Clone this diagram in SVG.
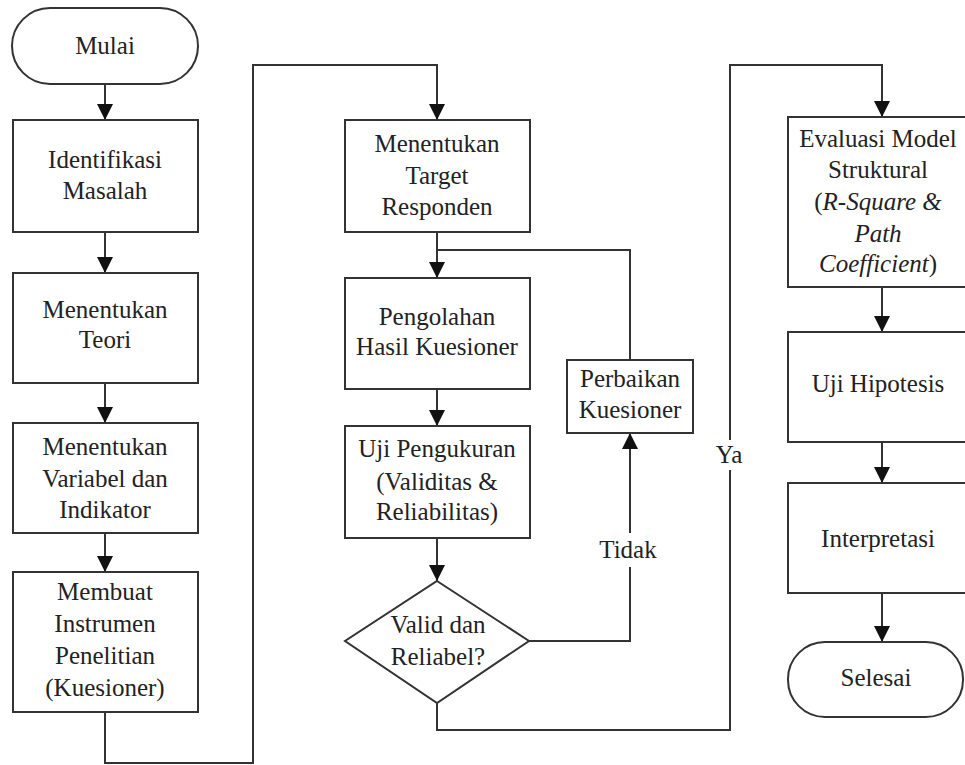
<svg xmlns="http://www.w3.org/2000/svg" width="965" height="765" viewBox="0 0 965 765" font-family="'Liberation Serif', 'Times New Roman', 'DejaVu Serif', serif">
<style>
.box{fill:#fff;stroke:#333;stroke-width:2}
.ln{fill:none;stroke:#333;stroke-width:2}
text{font-family:'Liberation Serif','Times New Roman','DejaVu Serif',serif;font-size:25px;fill:#222;text-anchor:middle}
.it{font-style:italic}
</style>
<defs>
<marker id="ah" markerUnits="userSpaceOnUse" markerWidth="16" markerHeight="16" refX="16" refY="8" orient="auto">
<path d="M0,0 L16,8 L0,16 z" fill="#111"/>
</marker>
</defs>
<rect width="965" height="765" fill="#fff"/>
<g id="connectors">
<path class="ln" d="M105,84 V120" marker-end="url(#ah)"/>
<path class="ln" d="M105,232 V273" marker-end="url(#ah)"/>
<path class="ln" d="M105,383 V423" marker-end="url(#ah)"/>
<path class="ln" d="M105,533 V572" marker-end="url(#ah)"/>
<path class="ln" d="M105,712 V763 H253 V65 H437 V120" marker-end="url(#ah)"/>
<path class="ln" d="M437,232 V278" marker-end="url(#ah)"/>
<path class="ln" d="M437,389 V426" marker-end="url(#ah)"/>
<path class="ln" d="M437,538 V581" marker-end="url(#ah)"/>
<path class="ln" d="M529,641 H630 V433" marker-end="url(#ah)"/>
<path class="ln" d="M630,360 V250 H437"/>
<path class="ln" d="M437,703 V730 H730 V65 H882 V117" marker-end="url(#ah)"/>
<path class="ln" d="M882,287 V332" marker-end="url(#ah)"/>
<path class="ln" d="M882,442 V483" marker-end="url(#ah)"/>
<path class="ln" d="M882,593 V642" marker-end="url(#ah)"/>
<g id="label-tidak"><rect x="600" y="533" width="60" height="34" fill="#fff"/><text x="628" y="558">Tidak</text></g>
<g id="label-ya"><rect x="712" y="440" width="36" height="30" fill="#fff"/><text x="729" y="463">Ya</text></g>
</g>
<g id="mulai"><rect class="box" x="12" y="8" width="186" height="76" rx="38"/><text x="105" y="54">Mulai</text></g>
<g id="identifikasi"><rect class="box" x="13" y="120" width="185" height="112"/><text x="105" y="168">Identifikasi</text><text x="105" y="199">Masalah</text></g>
<g id="teori"><rect class="box" x="13" y="273" width="185" height="110"/><text x="105" y="318">Menentukan</text><text x="105" y="348">Teori</text></g>
<g id="variabel"><rect class="box" x="13" y="423" width="185" height="110"/><text x="105" y="455">Menentukan</text><text x="105" y="487">Variabel dan</text><text x="105" y="518">Indikator</text></g>
<g id="instrumen"><rect class="box" x="13" y="572" width="185" height="140"/><text x="105" y="600">Membuat</text><text x="105" y="632">Instrumen</text><text x="105" y="664">Penelitian</text><text x="105" y="696">(Kuesioner)</text></g>
<g id="target"><rect class="box" x="345" y="120" width="185" height="112"/><text x="437" y="152">Menentukan</text><text x="437" y="184">Target</text><text x="437" y="215">Responden</text></g>
<g id="pengolahan"><rect class="box" x="345" y="278" width="185" height="111"/><text x="437" y="325">Pengolahan</text><text x="437" y="355">Hasil Kuesioner</text></g>
<g id="perbaikan"><rect class="box" x="567" y="360" width="126" height="73"/><text x="630" y="387">Perbaikan</text><text x="630" y="418">Kuesioner</text></g>
<g id="pengukuran"><rect class="box" x="345" y="426" width="185" height="112"/><text x="437" y="457">Uji Pengukuran</text><text x="437" y="490">(Validitas &amp;</text><text x="437" y="520">Reliabilitas)</text></g>
<g id="valid"><polygon class="box" points="437,581 529,641 437,703 345,641"/><text x="438" y="633">Valid dan</text><text x="438" y="665">Reliabel?</text></g>
<g id="evaluasi"><rect class="box" x="788" y="117" width="190" height="170"/><text x="878" y="147">Evaluasi Model</text><text x="878" y="178">Struktural</text><text x="878" y="210">(<tspan class="it">R-Square &amp;</tspan></text><text x="878" y="242" class="it">Path</text><text x="878" y="272"><tspan class="it">Coefficient</tspan>)</text></g>
<g id="hipotesis"><rect class="box" x="788" y="332" width="190" height="110"/><text x="878" y="392">Uji Hipotesis</text></g>
<g id="interpretasi"><rect class="box" x="788" y="483" width="190" height="110"/><text x="878" y="547">Interpretasi</text></g>
<g id="selesai"><rect class="box" x="788" y="642" width="175" height="75" rx="37"/><text x="876" y="686">Selesai</text></g>
</svg>
